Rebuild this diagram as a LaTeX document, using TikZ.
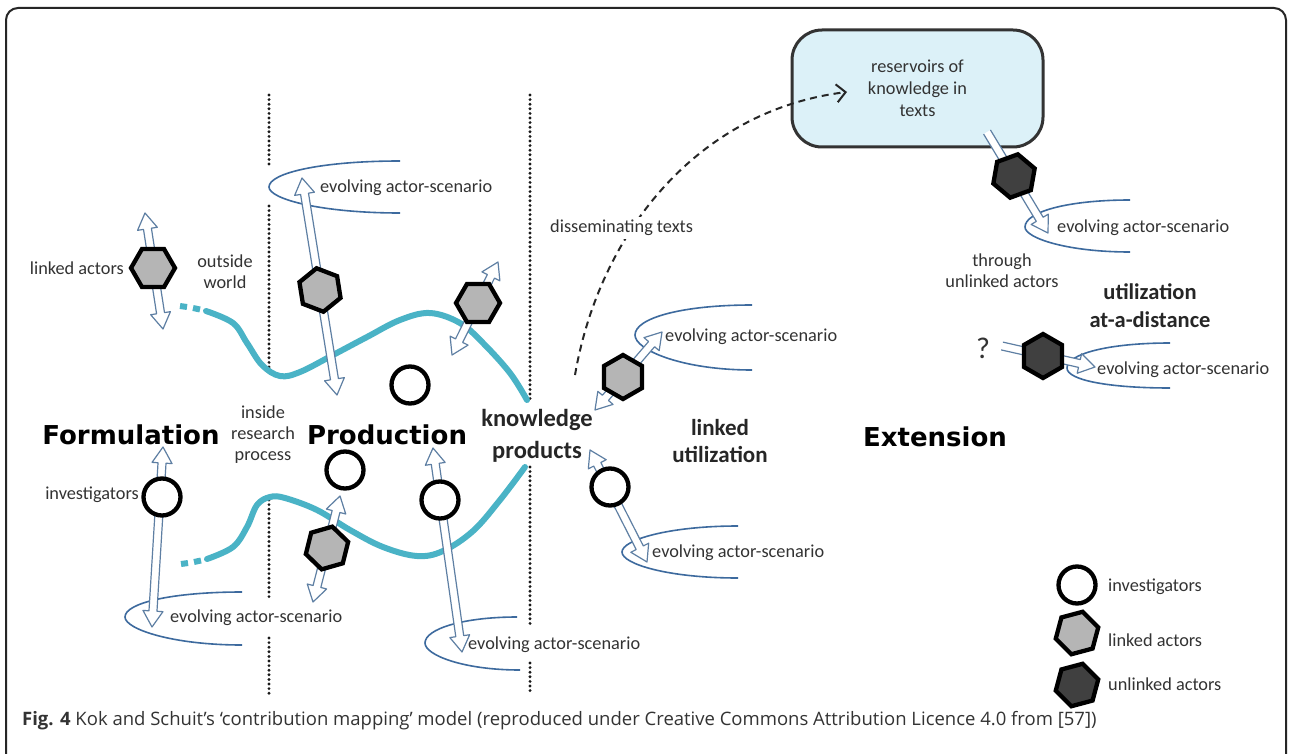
\documentclass[tikz,border=0pt]{standalone}
\usepackage{fontspec}
\setmainfont{Carlito}
\newfontfamily\titlefont{DejaVu Sans}
\newfontfamily\capfont{Open Sans}
\usetikzlibrary{shapes.geometric,calc,arrows.meta}
\definecolor{tealc}{HTML}{4AB3C6}
\definecolor{loopc}{HTML}{3D6A9E}
\definecolor{arrc}{HTML}{5E7FA3}
\definecolor{boxc}{HTML}{DCF1F8}
\definecolor{txtc}{HTML}{333333}
\definecolor{grayhex}{HTML}{B5B5B5}
\definecolor{darkhex}{HTML}{404040}
% double-headed hollow arrow between two named coordinates
\newcommand\dblarrow[2]{%
  \filldraw[hollow] (#1)
   -- ($(#1)!16pt!(#2)!10pt!90:(#2)$) -- ($(#1)!16pt!(#2)!4pt!90:(#2)$)
   -- ($(#2)!16pt!(#1)!4pt!-90:(#1)$) -- ($(#2)!16pt!(#1)!10pt!-90:(#1)$)
   -- (#2)
   -- ($(#2)!16pt!(#1)!10pt!90:(#1)$) -- ($(#2)!16pt!(#1)!4pt!90:(#1)$)
   -- ($(#1)!16pt!(#2)!4pt!-90:(#2)$) -- ($(#1)!16pt!(#2)!10pt!-90:(#2)$)
   -- cycle;}
% single-headed hollow arrow with open tail
\newcommand\sglarrow[2]{%
  \filldraw[hollow] ($(#1)!4pt!90:(#2)$)
   -- ($(#2)!16pt!(#1)!4pt!-90:(#1)$) -- ($(#2)!16pt!(#1)!10pt!-90:(#1)$)
   -- (#2)
   -- ($(#2)!16pt!(#1)!10pt!90:(#1)$) -- ($(#2)!16pt!(#1)!4pt!90:(#1)$)
   -- ($(#1)!4pt!-90:(#2)$);}
\begin{document}
\begin{tikzpicture}[x=1pt,y=-1pt,
  hollow/.style={draw=arrc, fill=white, line width=1.2pt, line join=round},
  inv/.style={circle, draw=black, line width=4.3pt, fill=white, minimum size=37pt, inner sep=0pt},
  lhex/.style={regular polygon, regular polygon sides=6, draw=black, line width=4.3pt, fill=grayhex, minimum size=44pt, inner sep=0pt},
  uhex/.style={lhex, fill=darkhex},
  tealline/.style={draw=tealc, line width=6pt, line cap=round},
  dotline/.style={draw=black!90, line width=3.2pt, line cap=round, dash pattern=on 0pt off 4.6pt},
  evloop/.style={draw=loopc, line width=1.6pt},
  lbl/.style={font=\fontsize{18.3}{21}\selectfont, text=txtc, inner sep=0pt, align=center},
  blbl/.style={font=\bfseries\fontsize{23}{27}\selectfont, text=black!85, inner sep=0pt, align=center},
  ttl/.style={font=\titlefont\bfseries\fontsize{26}{30}\selectfont, text=black, inner sep=0pt},
  resbox/.style={draw=black!80, line width=3pt, fill=boxc, rounded corners=30pt, minimum width=251pt, minimum height=117pt, align=center, font=\fontsize{18.3}{22}\selectfont, text=txtc},
  dasharrow/.style={draw=black!85, line width=2pt, dash pattern=on 7pt off 5pt, -{Straight Barb[length=9pt,width=18pt]}}
]
\useasboundingbox (0,0) rectangle (1289,754);
\fill[white] (0,0) rectangle (1289,754);
% frame
\draw[line width=2pt, draw=black!85, rounded corners=12pt] (6,770) -- (6,8) -- (1286,8) -- (1286,770);

% dotted boundaries
\draw[dotline] (269,95) -- (269,168);
\draw[dotline] (269,206) -- (269,368);
\draw[dotline] (269,500) -- (269,600);
\draw[dotline] (269,638) -- (269,695);
\draw[dotline] (530,95) -- (530,402);
\draw[dotline] (530,467) -- (530,627);
\draw[dotline] (530,663) -- (530,695);

% teal research-process curves
\draw[tealline, line cap=butt] (180,306) -- (187,307);
\draw[tealline, line cap=butt] (193,308) -- (200,309.5);
\draw[tealline] plot[smooth, tension=0.6] coordinates {(206,311) (233,323) (247,343) (262,365) (280,376) (300,372) (333,355) (367,337) (400,320) (430,313) (460,323) (483,343) (510,373) (527,400)};
\draw[tealline, line cap=butt] (181,564) -- (188,563);
\draw[tealline, line cap=butt] (194,562) -- (201,560.5);
\draw[tealline] plot[smooth, tension=0.6] coordinates {(207,559) (233,547) (247,527) (257,505) (270,497) (285,498) (317,510) (350,530) (383,547) (417,556) (443,551) (473,531) (500,500) (525,467)};

% evolving actor-scenario loops
\draw[evloop] (400,161) .. controls (321,161) and (269,173) .. (269,187) .. controls (269,199) and (321,213) .. (400,213);
\draw[evloop] (242,592) .. controls (172,592) and (125,603) .. (125,617) .. controls (125,629) and (172,645) .. (242,645);
\draw[evloop] (517,617) .. controls (463,617) and (425,629) .. (425,643) .. controls (425,655) and (463,670) .. (520,670);
\draw[evloop] (752,305) .. controls (682,305) and (635,318) .. (635,335) .. controls (635,350) and (682,370) .. (752,370);
\draw[evloop] (738,526) .. controls (668,526) and (622,540) .. (622,552) .. controls (622,564) and (668,578) .. (738,578);
\draw[evloop] (1130,200) .. controls (1067,200) and (1025,212) .. (1025,227) .. controls (1025,238) and (1067,252) .. (1130,252);
\draw[evloop] (1170,343) .. controls (1108,343) and (1067,354) .. (1067,368) .. controls (1067,380) and (1108,388) .. (1170,388);

% reservoir box
\node[resbox] (res) at (917.5,88.5) {reservoirs of\\knowledge in\\texts};

% arrow end points
\coordinate (a1s) at (145,213); \coordinate (a1e) at (163,329);
\coordinate (a2s) at (302,178); \coordinate (a2e) at (337,395);
\coordinate (a3s) at (498,262); \coordinate (a3e) at (452,355);
\coordinate (a4s) at (163,447); \coordinate (a4e) at (152,627);
\coordinate (a5s) at (340,496); \coordinate (a5e) at (313,602);
\coordinate (a6s) at (433,448); \coordinate (a6e) at (462,652);
\coordinate (a7s) at (662,332); \coordinate (a7e) at (595,410);
\coordinate (a8s) at (590,450); \coordinate (a8e) at (647,562);
\coordinate (s1s) at (987,132); \coordinate (s1e) at (1048,233);
\coordinate (s2s) at (1002,346); \coordinate (s2e) at (1095,367);

\dblarrow{a1s}{a1e}
\dblarrow{a2s}{a2e}
\dblarrow{a3s}{a3e}
\dblarrow{a4s}{a4e}
\dblarrow{a5s}{a5e}
\dblarrow{a6s}{a6e}
\dblarrow{a7s}{a7e}
\dblarrow{a8s}{a8e}
\sglarrow{s1s}{s1e}
\sglarrow{s2s}{s2e}

% investigators
\node[inv] (cF) at (162,497) {};
\node[inv] (cP1) at (410,385) {};
\node[inv] (cP2) at (345,470) {};
\node[inv] (cP3) at (440,500) {};
\node[inv] (cL) at (610,487) {};
% linked actors
\node[lhex] (hL1) at (153,268) {};
\node[lhex, shape border rotate=39] (hP1) at (320,290) {};
\node[lhex] (hP2) at (478,303) {};
\node[lhex, shape border rotate=16] (hP3) at (327,548) {};
\node[lhex, shape border rotate=30] (hU1) at (623,377) {};
% unlinked actors
\node[uhex, shape border rotate=20] (hX1) at (1014,176) {};
\node[uhex, shape border rotate=30] (hX2) at (1043,356) {};

% dashed dissemination arrow
\coordinate (dstart) at (575,375);
\coordinate (dend) at (847,92);
\draw[dasharrow] (dstart) .. controls (600,230) and (700,110) .. (dend);
\node[lbl, anchor=west, fill=white, inner ysep=3pt] (diss) at (550,228) {disseminating texts};

% labels
\node[lbl, anchor=east] (tLA) at (124,268) {linked actors};
\node[lbl] (tOW) at (225,272) {outside\\world};
\node[lbl, anchor=east] (tInv) at (139,495) {investigators};
\node[lbl] (tIRP) at (263,435) {inside\\research\\process};
\node[lbl] (tThr) at (1002,271) {through\\unlinked actors};
\node[lbl, font=\fontsize{30}{30}\selectfont] (tQ) at (983,348) {?};

\node[lbl, anchor=west] (e1) at (320,188) {evolving actor-scenario};
\node[lbl, anchor=west] (e2) at (170,618) {evolving actor-scenario};
\node[lbl, anchor=west] (e3) at (468,645) {evolving actor-scenario};
\node[lbl, anchor=west] (e4) at (665,337) {evolving actor-scenario};
\node[lbl, anchor=west] (e5) at (652,553) {evolving actor-scenario};
\node[lbl, anchor=west] (e6) at (1057,228) {evolving actor-scenario};
\node[lbl, anchor=west] (e7) at (1097,370) {evolving actor-scenario};

\node[ttl] (tForm) at (131,435) {Formulation};
\node[ttl] (tProd) at (387,435) {Production};
\node[ttl] (tExt) at (935,437) {Extension};
\node[blbl, font=\bfseries\fontsize{24.5}{32}\selectfont] (tKP) at (537,436) {knowledge\\products};
\node[blbl] (tLU) at (720,441) {linked\\utilization};
\node[blbl, font=\bfseries\fontsize{22.5}{28}\selectfont] (tUD) at (1150,306) {utilization\\at-a-distance};

% legend
\node[inv] (lgC) at (1077,585) {};
\node[lhex, shape border rotate=15] (lgL) at (1077,633) {};
\node[uhex, shape border rotate=15] (lgU) at (1077,685) {};
\node[lbl, anchor=west] (lgCt) at (1108,587) {investigators};
\node[lbl, anchor=west] (lgLt) at (1108,640) {linked actors};
\node[lbl, anchor=west] (lgUt) at (1108,684) {unlinked actors};

% caption
\node[anchor=west, inner sep=0pt, font=\capfont\fontsize{18.5}{21}\selectfont, text=black!80] (cap) at (22,721) {{\bfseries Fig. 4} Kok and Schuit’s ‘contribution mapping’ model (reproduced under Creative Commons Attribution Licence 4.0 from [57])};
\end{tikzpicture}
\end{document}
